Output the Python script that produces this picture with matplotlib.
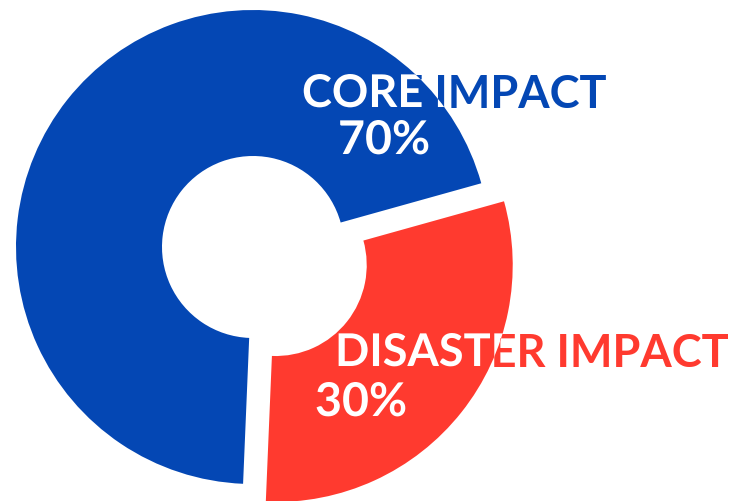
import matplotlib
matplotlib.use("Agg")
import matplotlib.pyplot as plt
import matplotlib.patheffects as pe

# Data
labels = ["CORE IMPACT", "DISASTER IMPACT"]
values = [70, 30]
colors = ["#0447B4", "#FF3A2F"]

W, H = 747, 502
fig = plt.figure(figsize=(W / 100, H / 100), dpi=100)
ax = fig.add_axes([0, 0, 1, 1])

R, r = 237, 91
wedges, _ = ax.pie(values, colors=colors, startangle=15.6, counterclock=True,
                   radius=R, center=(253, H - 248), explode=[0, 29],
                   wedgeprops=dict(width=R - r, linewidth=0))
ax.set_xlim(0, W)
ax.set_ylim(0, H)
ax.set_aspect("equal")
ax.set_axis_off()

font = dict(family=["Lato", "DejaVu Sans"], weight="bold")
total = sum(values)
# (x, baseline y) for label and percent, in pixel-like data coords
label_pos = [(302, H - 108), (335, H - 367)]
pct_pos = [(338, H - 155), (315, H - 417)]
label_size = 32.5
pct_size = 33.5

for i, w in enumerate(wedges):
    pct = f"{round(values[i] / total * 100)}%"
    for txt, (x, y), fs in [(labels[i], label_pos[i], label_size),
                            (pct, pct_pos[i], pct_size)]:
        ax.text(x, y, txt, color=colors[i], fontsize=fs, ha="left",
                va="baseline", **font)
        t = ax.text(x, y, txt, color="white", fontsize=fs, ha="left",
                    va="baseline", clip_on=True, **font)
        t.set_path_effects([pe.Normal()])
        t.set_clip_path(w)

fig.savefig("out.png", dpi=100)
